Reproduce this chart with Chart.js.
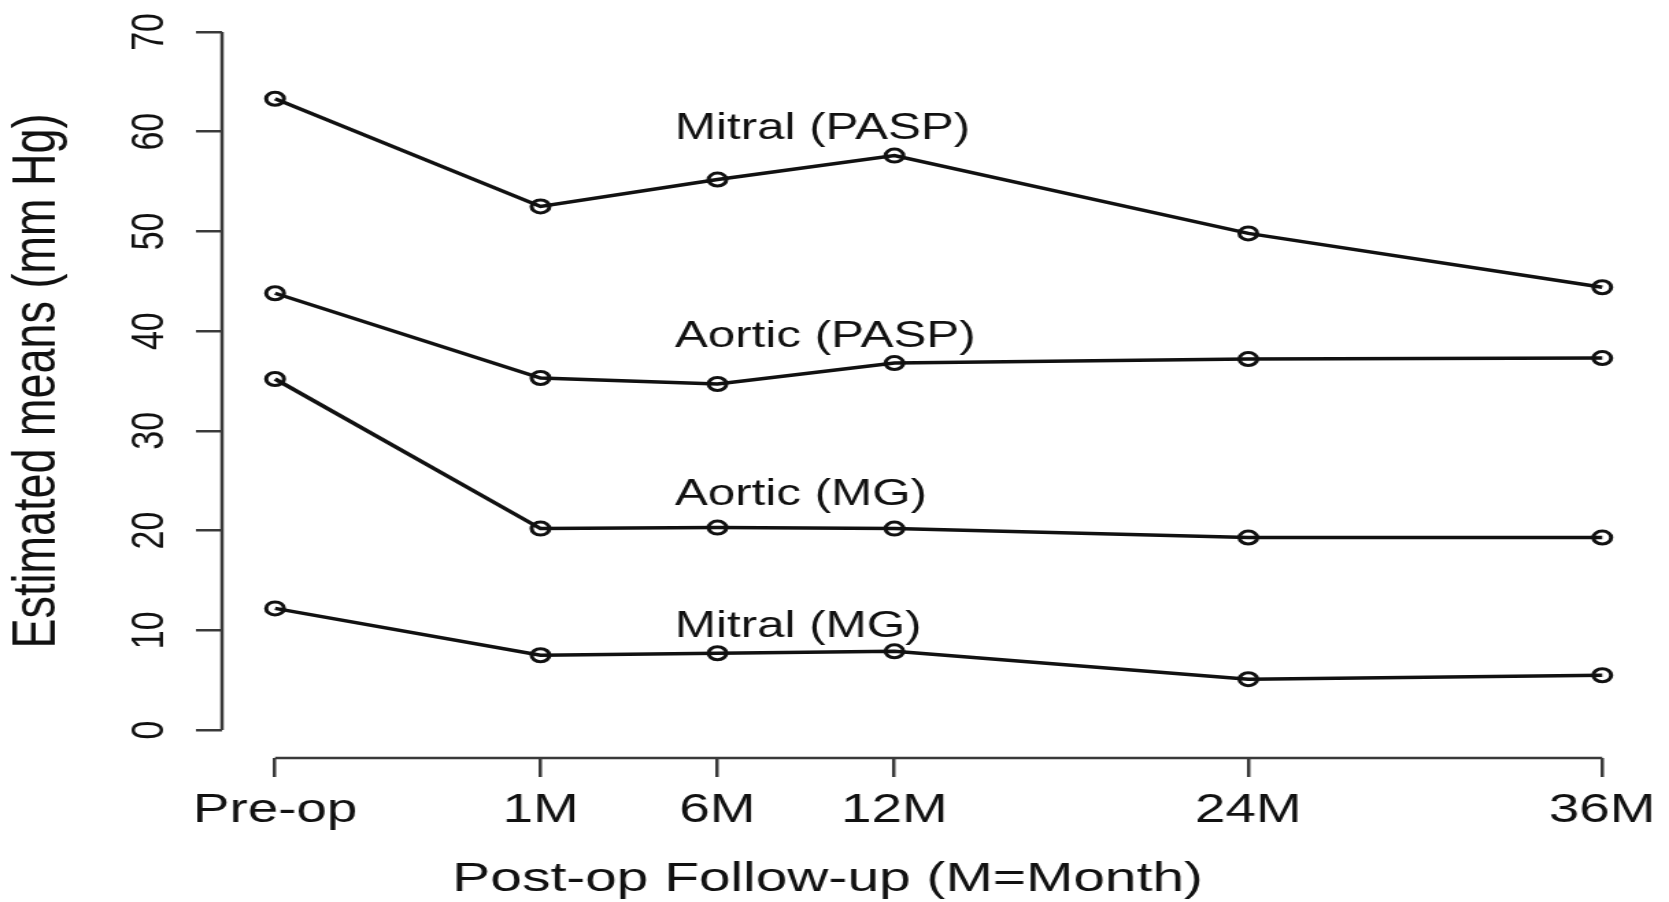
<!DOCTYPE html>
<html>
<head>
<meta charset="utf-8">
<title>Estimated means after valve surgery</title>
<script src="https://cdn.jsdelivr.net/npm/chart.js@4.4.1/dist/chart.umd.min.js"></script>
<style>
  html, body { margin: 0; padding: 0; background: #fff; overflow: hidden; }
  /* the source figure is stretched sideways, so draw narrow and widen it */
  #wrap { width: 1218px; height: 902px; transform-origin: 0 0; transform: scaleX(1.3703); filter: blur(0.4px); }
</style>
</head>
<body>
<div id="wrap"><canvas id="chart"></canvas></div>
<script>
// Follow-up points and their place along the x axis
const timeLabels = ['Pre-op', '1M', '6M', '12M', '24M', '36M'];
const timePoints = [0, 1.5, 2.5, 3.5, 5.5, 7.5];
const yTicks = [0, 10, 20, 30, 40, 50, 60, 70];

// Estimated means (mm Hg)
const mitralPASP = [63.3, 52.5, 55.2, 57.6, 49.8, 44.4];
const aorticPASP = [43.8, 35.3, 34.7, 36.8, 37.2, 37.3];
const aorticMG = [35.2, 20.2, 20.3, 20.2, 19.3, 19.3];
const mitralMG = [12.2, 7.5, 7.7, 7.9, 5.1, 5.5];

const seriesNames = ['Mitral (PASP)', 'Aortic (PASP)', 'Aortic (MG)', 'Mitral (MG)'];
const seriesValues = [mitralPASP, aorticPASP, aorticMG, mitralMG];

// where the series names are written (data units, left aligned)
const nameAtX = 2.26;
const nameAtY = [60.3, 39.4, 23.6, 10.3];

const FONT = '"Liberation Sans", Arial, Helvetica, sans-serif';
const INK = '#111';
const AXIS = '#3a3a3a';

// R style axes: lines only span the first and last tick, plus text on the plot
const plotText = {
  id: 'plotText',
  afterDraw(chart) {
    const { ctx, chartArea, scales: { x, y } } = chart;
    ctx.save();
    ctx.strokeStyle = AXIS;
    ctx.lineWidth = 2.5;
    ctx.beginPath();
    ctx.moveTo(chartArea.left, y.getPixelForValue(yTicks[0]));
    ctx.lineTo(chartArea.left, y.getPixelForValue(yTicks[yTicks.length - 1]));
    ctx.moveTo(x.getPixelForValue(timePoints[0]), chartArea.bottom);
    ctx.lineTo(x.getPixelForValue(timePoints[timePoints.length - 1]), chartArea.bottom);
    ctx.stroke();

    ctx.fillStyle = INK;
    ctx.textBaseline = 'middle';
    ctx.textAlign = 'left';
    ctx.font = '36px ' + FONT;
    seriesNames.forEach((name, i) => {
      ctx.fillText(name, x.getPixelForValue(nameAtX), y.getPixelForValue(nameAtY[i]));
    });

    // x axis title (sits left of centre in the original)
    ctx.textAlign = 'center';
    ctx.font = '41.5px ' + FONT;
    ctx.fillText('Post-op Follow-up (M=Month)', 604, 880);
    ctx.restore();
  }
};

const datasets = seriesValues.map((vals, i) => ({
  label: seriesNames[i],
  data: vals.map((v, j) => ({ x: timePoints[j], y: v })),
  borderColor: INK,
  borderWidth: 3.5,
  pointRadius: 6.5,
  pointBorderWidth: 3,
  pointBorderColor: INK,
  pointBackgroundColor: 'rgba(0,0,0,0)',
  pointStyle: 'circle',
  tension: 0,
  fill: false
}));

new Chart(document.getElementById('chart'), {
  type: 'line',
  data: { datasets },
  options: {
    responsive: true,
    maintainAspectRatio: false,
    animation: false,
    devicePixelRatio: 1,
    layout: { autoPadding: false, padding: { left: 0, right: 10, top: 4, bottom: 0 } },
    plugins: {
      legend: { display: false },
      tooltip: { enabled: false }
    },
    scales: {
      x: {
        type: 'linear',
        min: -0.3,
        max: 7.8,
        border: { display: false },
        grid: { drawOnChartArea: false, drawTicks: true, tickLength: 19, tickColor: AXIS, lineWidth: 2.5 },
        afterBuildTicks: scale => { scale.ticks = timePoints.map(v => ({ value: v })); },
        afterFit: scale => { scale.height = 144; scale.paddingLeft = 0; scale.paddingRight = 0; },
        ticks: {
          autoSkip: false,
          maxRotation: 0,
          minRotation: 0,
          padding: 10,
          color: INK,
          font: { family: FONT, size: 40 },
          callback: (val, i) => timeLabels[i]
        }
      },
      y: {
        min: -2.8,
        max: 72.8,
        border: { display: false },
        grid: { drawOnChartArea: false, drawTicks: true, tickLength: 19, tickColor: AXIS, lineWidth: 2.5 },
        afterBuildTicks: scale => { scale.ticks = yTicks.map(v => ({ value: v })); },
        afterFit: scale => { scale.width = 162; scale.paddingTop = 0; scale.paddingBottom = 0; },
        ticks: {
          minRotation: 90,
          maxRotation: 90,
          crossAlign: 'center',
          padding: 14,
          color: INK,
          font: { family: FONT, size: 34 },
          callback: val => String(val)
        },
        title: {
          display: true,
          text: 'Estimated means (mm Hg)',
          color: INK,
          font: { family: FONT, size: 45, lineHeight: 1 },
          padding: { top: 5, bottom: 0 }
        }
      }
    }
  },
  plugins: [plotText]
});
</script>
</body>
</html>
